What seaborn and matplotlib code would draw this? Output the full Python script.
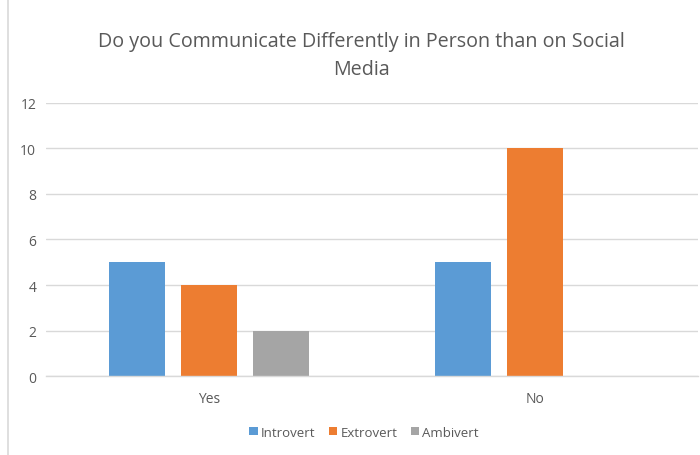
import matplotlib
matplotlib.use("Agg")
import matplotlib.pyplot as plt
import matplotlib.lines as mlines
import seaborn as sns
import pandas as pd

categories = ["Yes", "No"]
series = ["Introvert", "Extrovert", "Ambivert"]
introvert = [5, 5]
extrovert = [4, 10]
ambivert = [2, 0]
colors = ["#5B9BD5", "#ED7D31", "#A5A5A5"]

rows = []
for s, vals in zip(series, [introvert, extrovert, ambivert]):
    for c, v in zip(categories, vals):
        rows.append({"Answer": c, "Type": s, "Count": v})
df = pd.DataFrame(rows)

sns.set_theme(style="white")
plt.rcParams["font.family"] = ["Open Sans", "DejaVu Sans"]

fig = plt.figure(figsize=(7, 4.56), dpi=100)
ax = fig.add_axes([0.0657, 0.1732, 0.9313, 0.5988])

sns.barplot(data=df, x="Answer", y="Count", hue="Type", order=categories,
            hue_order=series, palette=colors, width=0.663, gap=0.222,
            saturation=1, errorbar=None, ax=ax, legend=True, linewidth=0)

ax.set_ylim(0, 12)
ax.set_xlim(-0.5, 1.5)
ax.set_yticks(range(0, 13, 2))
ax.set_xlabel("")
ax.set_ylabel("")
ax.grid(axis="y", color="#D9D9D9", linewidth=1)
ax.set_axisbelow(True)
for sp in ["top", "right", "left"]:
    ax.spines[sp].set_visible(False)
ax.spines["bottom"].set_color("#D9D9D9")
ax.spines["bottom"].set_linewidth(1)
ax.tick_params(axis="both", length=0, colors="#595959", labelsize=10)
ax.tick_params(axis="y", pad=7)
ax.tick_params(axis="x", pad=11)

handles, labels = ax.get_legend_handles_labels()
ax.legend_.remove()
fig.legend(handles, labels, loc="center", bbox_to_anchor=(0.52, 0.05), ncol=3,
           frameon=False, fontsize=9.5, handlelength=0.65, handleheight=0.65,
           handletextpad=0.25, columnspacing=1.0, labelcolor="#595959")

fig.text(0.516, 0.878, "Do you Communicate Differently in Person than on Social\nMedia",
         ha="center", va="center", fontsize=14.2, color="#595959", linespacing=1.55)

fig.add_artist(mlines.Line2D([0.0114, 0.0114], [0, 1], color="#D9D9D9", linewidth=1.2,
                             transform=fig.transFigure))

fig.savefig("out.png", dpi=100, facecolor="white")
